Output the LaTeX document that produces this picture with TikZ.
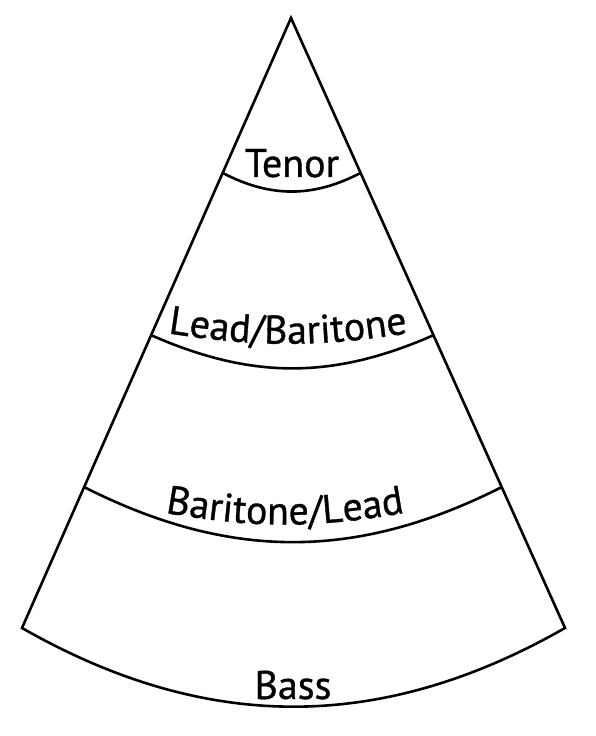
\documentclass[tikz,border=0pt]{standalone}
\usepackage{fontspec}
\setmainfont{PT Sans}[RawFeature={embolden=0.8}]
\usetikzlibrary{calc,decorations.text}
\newcommand{\partfont}{\fontsize{40}{46}\selectfont}
\begin{document}
\begin{tikzpicture}[x=1pt,y=1pt,line width=2.6pt]
      \useasboundingbox (0,0) rectangle (596,736);
      \coordinate (apex) at (291,718);
      \coordinate (bl) at (22,108);
      \coordinate (br) at (565,108);
      \coordinate (tenl) at ($(apex)!0.254!(bl)$);
      \coordinate (tenr) at ($(apex)!0.254!(br)$);
      \coordinate (leadl) at ($(apex)!0.52!(bl)$);
      \coordinate (leadr) at ($(apex)!0.52!(br)$);
      \coordinate (baril) at ($(apex)!0.769!(bl)$);
      \coordinate (barir) at ($(apex)!0.769!(br)$);
      \draw (bl) -- (apex) -- (br) to[bend left=29.7] (bl) -- cycle;
      \draw (tenl) to[bend right=27.5] (tenr);
      \draw (leadl) to[bend right=23.7] (leadr);
      \draw (baril) to[bend right=26.8] (barir);
      \node[font=\partfont,anchor=base] (tenor) at (292,559) {Tenor};
      \path[decorate,decoration={text along path,text align=center,text={|\partfont|Lead/Baritone}}] (148,406) to[bend right=9.7] (428,406);
      \path[decorate,decoration={text along path,text align=center,text={|\partfont|Baritone/Lead}}] (145,227) to[bend right=11] (425,227);
      \node[font=\partfont,anchor=base] (bass) at (293,37) {Bass};
    \end{tikzpicture}
\end{document}
